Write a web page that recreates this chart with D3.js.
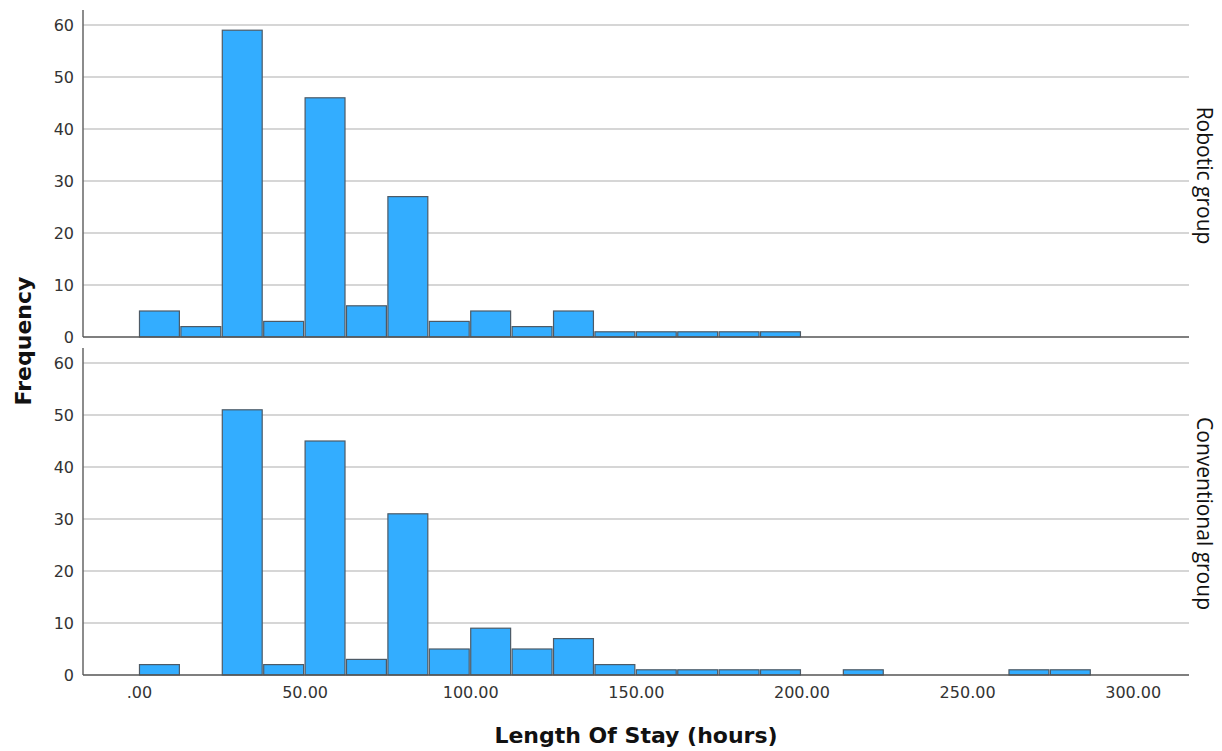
<!DOCTYPE html>
<html>
<head>
<meta charset="utf-8">
<script src="https://cdn.jsdelivr.net/npm/d3@7"></script>
<style>
  body { margin: 0; background: #fff; }
  .tick-label { font-family: "DejaVu Sans", sans-serif; font-size: 16px; fill: #333; }
  .axis-title { font-family: "DejaVu Sans", sans-serif; font-size: 22px; font-weight: bold; fill: #111; }
  .panel-label { font-family: "Open Sans", sans-serif; font-size: 21px; fill: #111; }
</style>
</head>
<body>
<div id="chart"></div>
<script>
// histogram bins, 12.5 hours wide, starting at 0
const binWidth = 12.5;
const groups = ['Robotic group', 'Conventional group'];
const robotic = [5, 2, 59, 3, 46, 6, 27, 3, 5, 2, 5, 1, 1, 1, 1, 1];
const conventional = [2, 0, 51, 2, 45, 3, 31, 5, 9, 5, 7, 2, 1, 1, 1, 1, 0, 1, 0, 0, 0, 1, 1];
const xTicks = [0, 50, 100, 150, 200, 250, 300];
const yTicks = [0, 10, 20, 30, 40, 50, 60];

const width = 1222;
const height = 751;

const svg = d3.select('#chart').append('svg')
    .attr('width', width)
    .attr('height', height);

const xScale = d3.scaleLinear()
    .domain([-16.9, 317])
    .range([83, 1189]);

const panels = [
    { name: groups[0], data: robotic, top: 10, bottom: 337 },
    { name: groups[1], data: conventional, top: 348, bottom: 675 }
];

panels.forEach(function(p) {
    const yScale = d3.scaleLinear()
        .domain([0, 60])
        .range([p.bottom, p.bottom - 312]);

    const g = svg.append('g');

    // gridlines
    g.selectAll('.grid')
        .data(yTicks.filter(d => d > 0))
        .enter().append('line')
        .attr('x1', xScale.range()[0])
        .attr('x2', xScale.range()[1])
        .attr('y1', d => yScale(d))
        .attr('y2', d => yScale(d))
        .attr('stroke', '#c8c8c8')
        .attr('stroke-width', 1.5);

    // y axis, labels only
    const yAxis = d3.axisLeft(yScale)
        .tickValues(yTicks)
        .tickSize(0)
        .tickPadding(9)
        .tickFormat(d => d);
    const ya = g.append('g')
        .attr('transform', 'translate(' + xScale.range()[0] + ',0)')
        .call(yAxis);
    ya.select('.domain').remove();
    ya.selectAll('text').attr('class', 'tick-label').attr('font-family', null).attr('font-size', null);

    // bars
    const bins = p.data.map((v, i) => ({ x0: i * binWidth, x1: (i + 1) * binWidth, n: v }))
        .filter(d => d.n > 0);
    g.selectAll('.bar')
        .data(bins)
        .enter().append('rect')
        .attr('x', d => xScale(d.x0) + 0.5)
        .attr('width', d => xScale(d.x1) - xScale(d.x0) - 1.5)
        .attr('y', d => yScale(d.n))
        .attr('height', d => yScale(0) - yScale(d.n))
        .attr('fill', '#33adff')
        .attr('stroke', '#4d5a66')
        .attr('stroke-width', 1.2);

    // axis lines
    g.append('line')
        .attr('x1', xScale.range()[0])
        .attr('x2', xScale.range()[0])
        .attr('y1', p.top)
        .attr('y2', p.bottom)
        .attr('stroke', '#666')
        .attr('stroke-width', 1.5);
    g.append('line')
        .attr('x1', xScale.range()[0])
        .attr('x2', xScale.range()[1])
        .attr('y1', p.bottom)
        .attr('y2', p.bottom)
        .attr('stroke', '#555')
        .attr('stroke-width', 1.5);

    // panel label on right
    const cy = (p.top + p.bottom) / 2 + 2;
    g.append('text')
        .attr('class', 'panel-label')
        .attr('transform', 'translate(1197,' + cy + ') rotate(90)')
        .attr('text-anchor', 'middle')
        .text(p.name);
});

// x axis labels
const xAxis = d3.axisBottom(xScale)
    .tickValues(xTicks)
    .tickSize(0)
    .tickPadding(12)
    .tickFormat(d => d === 0 ? '.00' : d.toFixed(2));
const xa = svg.append('g')
    .attr('transform', 'translate(0,675)')
    .call(xAxis);
xa.select('.domain').remove();
xa.selectAll('text').attr('class', 'tick-label').attr('font-family', null).attr('font-size', null);

svg.append('text')
    .attr('class', 'axis-title')
    .attr('x', 636)
    .attr('y', 743)
    .attr('text-anchor', 'middle')
    .text('Length Of Stay (hours)');

svg.append('text')
    .attr('class', 'axis-title')
    .attr('transform', 'translate(31,341) rotate(-90)')
    .attr('text-anchor', 'middle')
    .text('Frequency');
</script>
</body>
</html>
